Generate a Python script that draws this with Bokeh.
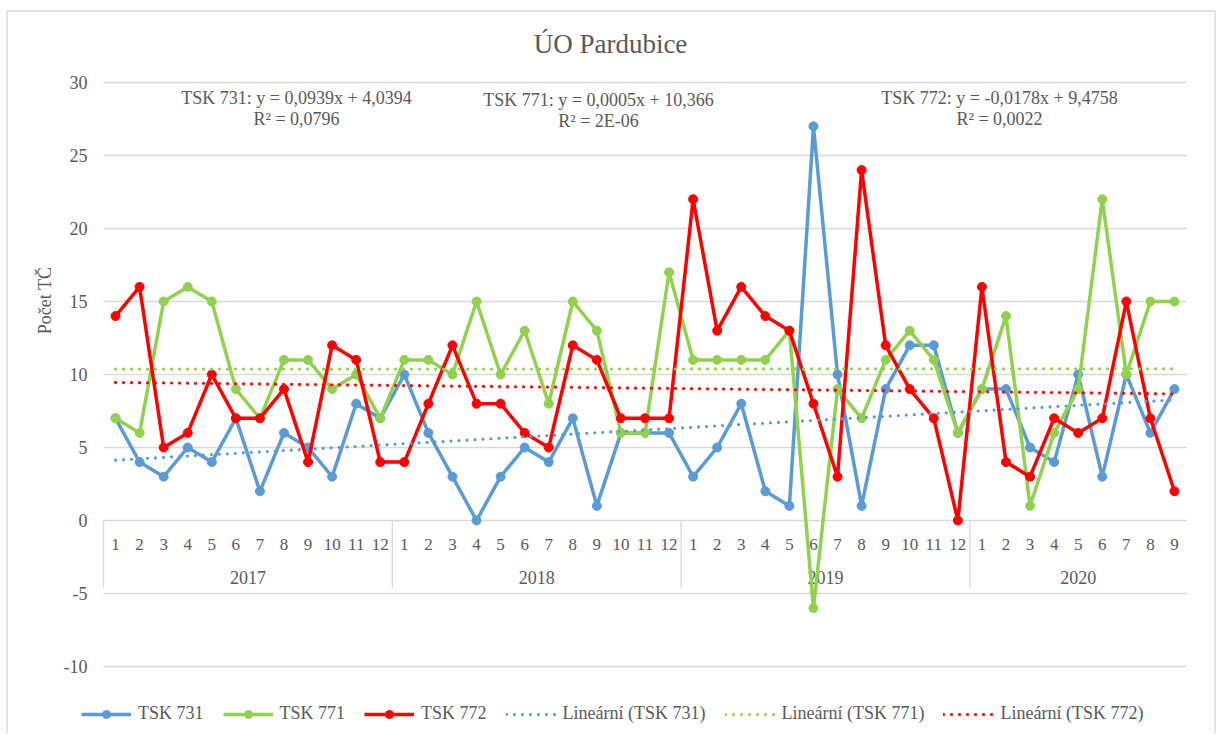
import math
from bokeh.plotting import figure
from bokeh.models import Range1d, Label, Legend, LegendItem
from bokeh.embed import file_html
from bokeh.resources import INLINE
from bokeh.core.properties import value

# ---------------- data ----------------
years = ["2017", "2018", "2019", "2020"]
months_per_year = [12, 12, 12, 9]

tsk731 = [7, 4, 3, 5, 4, 7, 2, 6, 5, 3, 8, 7,
          10, 6, 3, 0, 3, 5, 4, 7, 1, 6, 6, 6,
          3, 5, 8, 2, 1, 27, 10, 1, 9, 12, 12, 6,
          9, 9, 5, 4, 10, 3, 10, 6, 9]
tsk771 = [7, 6, 15, 16, 15, 9, 7, 11, 11, 9, 10, 7,
          11, 11, 10, 15, 10, 13, 8, 15, 13, 6, 6, 17,
          11, 11, 11, 11, 13, -6, 9, 7, 11, 13, 11, 6,
          9, 14, 1, 6, 9, 22, 10, 15, 15]
tsk772 = [14, 16, 5, 6, 10, 7, 7, 9, 4, 12, 11, 4,
          4, 8, 12, 8, 8, 6, 5, 12, 11, 7, 7, 7,
          22, 13, 16, 14, 13, 8, 3, 24, 12, 9, 7, 0,
          16, 4, 3, 7, 6, 7, 15, 7, 2]

series_names = ["TSK 731", "TSK 771", "TSK 772"]
series_colors = ["#5B9BD5", "#92D050", "#FF0000"]
trend_slope = [0.0939, 0.0005, -0.0178]
trend_intercept = [4.0394, 10.366, 9.4758]
trend_r2 = ["0,0796", "2E-06", "0,0022"]
y_ticks = [-10, -5, 0, 5, 10, 15, 20, 25, 30]

title_text = "ÚO Pardubice"
y_label = "Počet TČ"

# ---------------- derived ----------------
month_labels = []
for n in months_per_year:
    month_labels += [str(m) for m in range(1, n + 1)]
N = len(month_labels)
x = list(range(1, N + 1))
series = [tsk731, tsk771, tsk772]

FONT = "Liberation Serif"
TXT = "#595959"
GRID = "#d9d9d9"

# layout: plot area in page pixels (left, right, top=max tick, bottom=min tick)
PL, PR, PT, PB = 104.0, 1187.0, 83.0, 667.0
YMAX, YMIN = max(y_ticks), min(y_ticks)
XSTEP = (PR - PL) / N
YSTEP = (PB - PT) / (YMAX - YMIN)
FIG_L, FIG_T, W, H = 1, 1, 1220, 733


def dx(px):
    return 0.5 + (px - PL) / XSTEP


def dy(py):
    return YMAX - (py - PT) / YSTEP


p = figure(width=W, height=H, output_backend="svg", toolbar_location=None,
           x_range=Range1d(dx(FIG_L), dx(FIG_L + W)), y_range=Range1d(dy(FIG_T + H), dy(FIG_T)),
           x_axis_location=None, y_axis_location=None, min_border=0)
p.outline_line_color = None
p.grid.visible = False

# outer chart border
p.quad(left=[dx(7.5)], right=[dx(1215.5)], top=[dy(11.5)], bottom=[dy(760)],
       fill_color=None, line_color=GRID, line_width=1.3)

# horizontal gridlines + value labels
p.segment(x0=[0.5] * len(y_ticks), y0=y_ticks, x1=[N + 0.5] * len(y_ticks), y1=y_ticks,
          line_color=GRID, line_width=1.3)
p.text(x=[dx(88)] * len(y_ticks), y=y_ticks, text=[str(t) for t in y_ticks], text_align="right",
       text_baseline="middle", text_font=value(FONT), text_font_size="18px", text_color=TXT)
p.add_layout(Label(x=dx(45), y=dy(301), text=y_label, angle=math.pi / 2, text_align="center",
                   text_baseline="middle", text_font=FONT, text_font_size="18px", text_color=TXT))

# category axis (months + years) drawn at y = 0
p.text(x=x, y=[dy(545)] * N, text=month_labels, text_align="center", text_baseline="middle",
       text_font=value(FONT), text_font_size="17px", text_color=TXT)
year_x, bounds = [], [0.5]
start = 1
for n in months_per_year:
    year_x.append(start + (n - 1) / 2)
    start += n
    bounds.append(start - 0.5)
p.text(x=year_x, y=[dy(578)] * len(years), text=years, text_align="center", text_baseline="middle",
       text_font=value(FONT), text_font_size="18px", text_color=TXT)
sep = bounds[:-1]
p.segment(x0=sep, y0=[0] * len(sep), x1=sep, y1=[dy(588)] * len(sep), line_color=GRID, line_width=1.3)

# series
items = []
for name, vals, col in zip(series_names, series, series_colors):
    ln = p.line(x, vals, line_color=col, line_width=3.5, line_join="round")
    sc = p.scatter(x, vals, size=9, fill_color=col, line_color=col)
    items.append(LegendItem(label=name, renderers=[ln, sc]))

# trend lines
trend_items = []
for name, a, b, col in zip(series_names, trend_slope, trend_intercept, series_colors):
    tl = p.line([1, N], [a * 1 + b, a * N + b], line_color=col, line_width=3.2,
                line_dash="0 8", line_cap="round")
    trend_items.append(LegendItem(label="Lineární (%s)" % name, renderers=[tl]))

# equation labels
eq_pos = [(297, 98), (599, 100), (1000, 98)]
for name, a, b, r2, (ex, ey) in zip(series_names, trend_slope, trend_intercept, trend_r2, eq_pos):
    sa = ("%.3g" % a).replace(".", ",")
    sb = ("%.5g" % b).replace(".", ",")
    p.add_layout(Label(x=dx(ex), y=dy(ey), text="%s: y = %sx + %s" % (name, sa, sb), text_align="center",
                       text_baseline="middle", text_font=FONT, text_font_size="18px", text_color=TXT))
    p.add_layout(Label(x=dx(ex), y=dy(ey + 21), text="R² = %s" % r2, text_align="center",
                       text_baseline="middle", text_font=FONT, text_font_size="18px", text_color=TXT))

# title
p.add_layout(Label(x=dx(611), y=dy(44), text=title_text, text_align="center", text_baseline="middle",
                   text_font=FONT, text_font_size="27px", text_color=TXT))

legend = Legend(items=items + trend_items, orientation="horizontal", location=(82 - FIG_L, FIG_T + H - 725),
                border_line_color=None, background_fill_alpha=0, padding=0, margin=0,
                glyph_width=50, glyph_height=20, label_standoff=7, spacing=19,
                label_text_font=FONT, label_text_font_size="18px", label_text_color=TXT)
p.add_layout(legend)

open("out.html", "w").write(file_html(p, INLINE))
